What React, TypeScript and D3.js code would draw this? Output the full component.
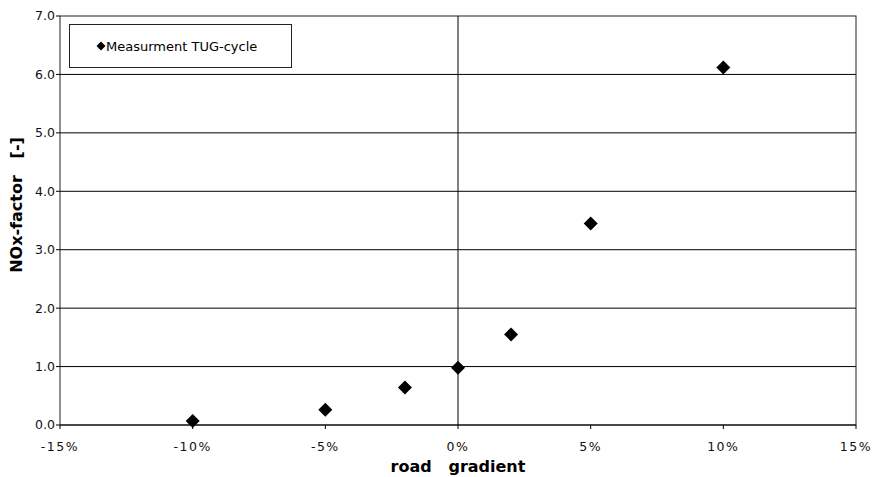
import React from "react";
import * as d3 from "d3";

const gradients = [-10, -5, -2, 0, 2, 5, 10];
const noxFactor = [0.07, 0.26, 0.64, 0.98, 1.55, 3.45, 6.12];
const xTicks = [-15, -10, -5, 0, 5, 10, 15];
const yTicks = [0, 1, 2, 3, 4, 5, 6, 7];
const seriesName = "Measurment TUG-cycle";

const W = 878, H = 477;
const L = 60, R = 856, T = 16, B = 425;

export default function App() {
  const x = d3.scaleLinear().domain([-15, 15]).range([L, R]);
  const y = d3.scaleLinear().domain([0, 7]).range([B, T]);
  const diamond = (cx: number, cy: number, r: number) =>
    `M${cx},${cy - r}L${cx + r},${cy}L${cx},${cy + r}L${cx - r},${cy}Z`;
  const font = "Verdana, 'DejaVu Sans', sans-serif";
  return (
    <svg width={W} height={H} style={{ position: "absolute", left: 0, top: 0 }} fontFamily={font}>
      <rect x={0} y={0} width={W} height={H} fill="#fff" />
      {yTicks.slice(1, -1).map((t) => (
        <line key={"g" + t} x1={L} x2={R} y1={y(t)} y2={y(t)} stroke="#000" strokeWidth={1} />
      ))}
      <rect x={L} y={T} width={R - L} height={B - T} fill="none" stroke="#222" strokeWidth={1} />
      <line x1={x(0)} x2={x(0)} y1={T} y2={B} stroke="#000" strokeWidth={1} />
      {yTicks.map((t) => (
        <g key={"y" + t}>
          <line x1={L - 4} x2={L} y1={y(t)} y2={y(t)} stroke="#000" />
          <text x={L - 5} y={y(t)} dy="0.35em" textAnchor="end" fontSize={12.5} fill="#111">
            {t.toFixed(1)}
          </text>
        </g>
      ))}
      {xTicks.map((t) => (
        <g key={"x" + t}>
          <line x1={x(t)} x2={x(t)} y1={B} y2={B + 4} stroke="#000" />
          <text x={x(t)} y={B + 26} textAnchor="middle" fontSize={12.5} letterSpacing={1.5} fill="#111">
            {t + "%"}
          </text>
        </g>
      ))}
      <line x1={L} x2={R} y1={B} y2={B} stroke="#000" strokeWidth={1.2} />
      {gradients.map((g, i) => (
        <path key={"p" + i} d={diamond(x(g), y(noxFactor[i]), 7)} fill="#000" />
      ))}
      <rect x={69.5} y={24.5} width={222} height={43} fill="#fff" stroke="#222" />
      <path d={diamond(101, 46, 4.5)} fill="#000" />
      <text x={106} y={46} dy="0.35em" fontSize={13} fill="#000">{seriesName}</text>
      <text x={x(0)} y={472} textAnchor="middle" fontSize={16} fontWeight="bold" fill="#000" style={{ whiteSpace: "pre" }}>
        {"road   gradient"}
      </text>
      <text transform={`translate(22,205) rotate(-90)`} textAnchor="middle" fontSize={16} fontWeight="bold" fill="#000" style={{ whiteSpace: "pre" }}>
        {"NOx-factor   [-]"}
      </text>
    </svg>
  );
}
